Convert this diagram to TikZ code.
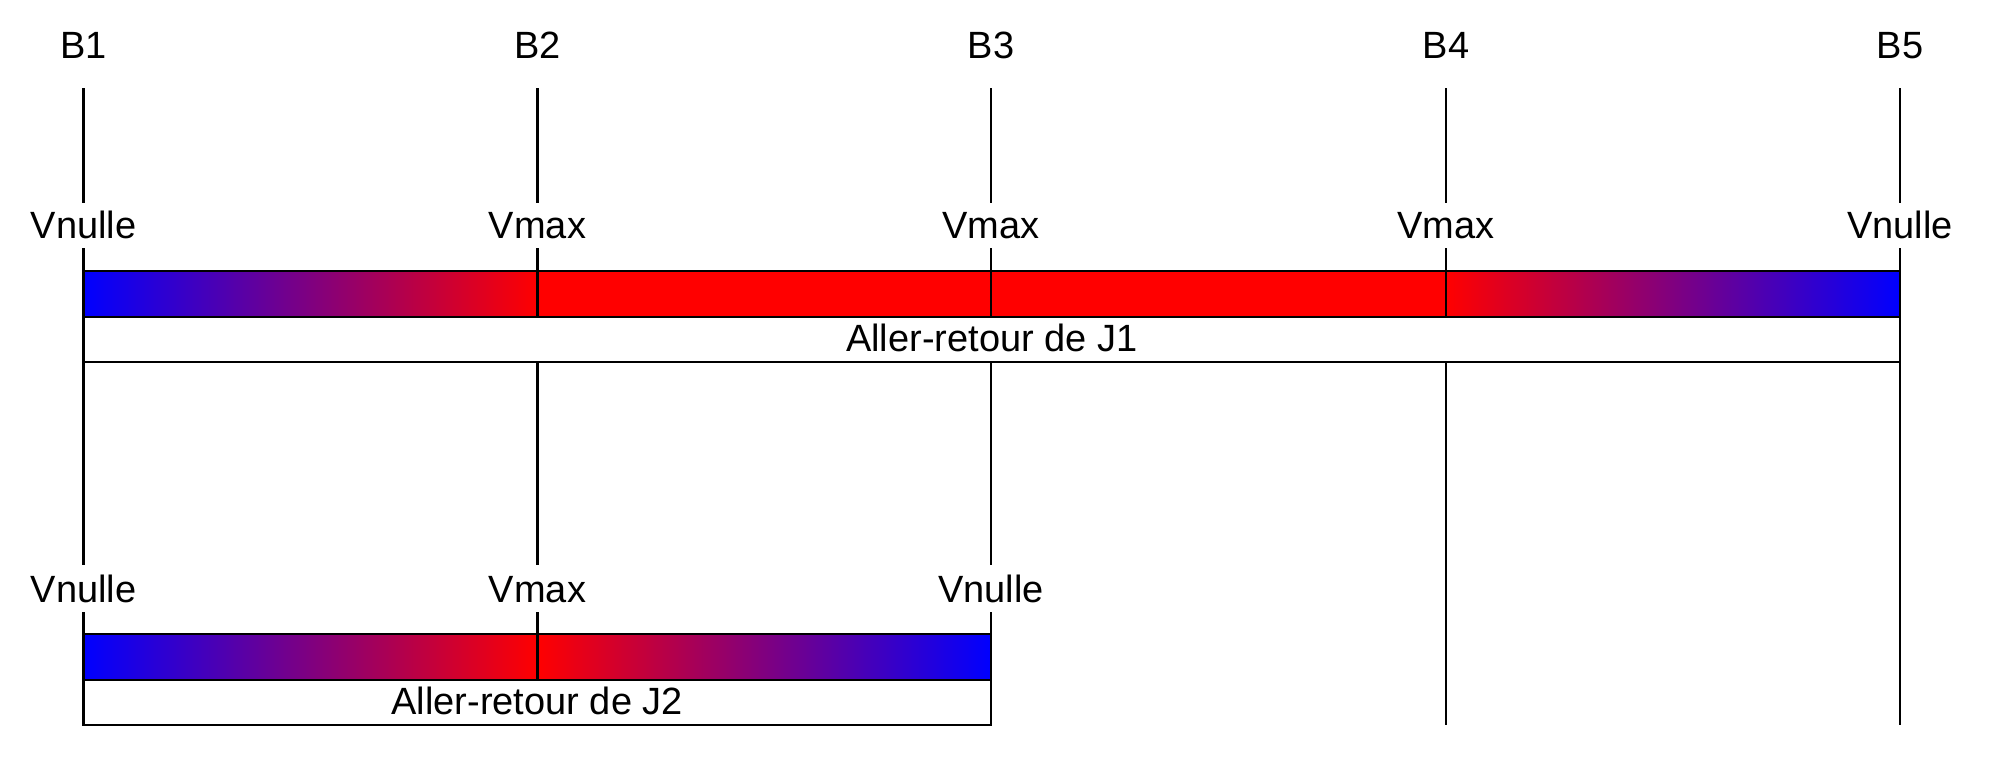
\documentclass[tikz,border=0pt]{standalone}
\usepackage{fontspec}
\setmainfont{Liberation Sans}
\begin{document}
\begin{tikzpicture}[x=0.01cm,y=-0.01cm,line width=0.6pt,
  lbl/.style={font=\fontsize{10.8}{12}\selectfont,inner sep=0pt,anchor=base},
  tick/.style={draw=black,line width=0.6pt},
  frame/.style={draw=black,line width=0.7pt}]
\useasboundingbox (0,0) rectangle (2000,769);
% column positions
\def\xa{83.5}\def\xb{537.5}\def\xc{991}\def\xd{1446}\def\xe{1900}
% bars (J1)
\shade[left color=blue,right color=red] (\xa,271) rectangle (\xb,317);
\fill[red] (\xb,271) rectangle (\xd,317);
\shade[left color=red,right color=blue] (\xd,271) rectangle (\xe,317);
\draw[frame] (\xa,271) rectangle (\xe,362);
\draw[frame] (\xa,317) -- (\xe,317);
% bars (J2)
\shade[left color=blue,right color=red] (\xa,634) rectangle (\xb,680);
\shade[left color=red,right color=blue] (\xb,634) rectangle (\xc,680);
\draw[frame] (\xa,634) rectangle (\xc,725);
\draw[frame] (\xa,680) -- (\xc,680);
% top labels
\node[lbl] (B1) at (\xa,58) {B1};
\node[lbl] (B2) at (\xb,58) {B2};
\node[lbl] (B3) at (\xc,58) {B3};
\node[lbl] (B4) at (\xd,58) {B4};
\node[lbl] (B5) at (\xe,58) {B5};
% J1 speed labels
\node[lbl] (v11) at (\xa,238) {Vnulle};
\node[lbl] (v12) at (\xb,238) {Vmax};
\node[lbl] (v13) at (\xc,238) {Vmax};
\node[lbl] (v14) at (\xd,238) {Vmax};
\node[lbl] (v15) at (\xe,238) {Vnulle};
\node[lbl] (j1) at ({(\xa+\xe)/2},351) {Aller-retour de J1};
% J2 speed labels
\node[lbl] (v21) at (\xa,602) {Vnulle};
\node[lbl] (v22) at (\xb,602) {Vmax};
\node[lbl] (v23) at (\xc,602) {Vnulle};
\node[lbl] (j2) at ({(\xa+\xc)/2},714) {Aller-retour de J2};
% coordinates for the vertical lines
\foreach \n/\x in {1/\xa,2/\xb,3/\xc,4/\xd,5/\xe}{
  \coordinate (ta\n) at (\x,88);
  \coordinate (tb\n) at (\x,203);
  \coordinate (tc\n) at (\x,248);
  \coordinate (td\n) at (\x,317);
  \coordinate (te\n) at (\x,362);
}
\foreach \n/\x in {1/\xa,2/\xb,3/\xc}{
  \coordinate (lf\n) at (\x,565);
  \coordinate (lg\n) at (\x,612);
  \coordinate (lh\n) at (\x,680);
}
\coordinate (lf4) at (\xd,725);
\coordinate (lf5) at (\xe,725);
% vertical lines
\foreach \n in {1,...,5}{
  \draw[tick] (ta\n) -- (tb\n);
  \draw[tick] (tc\n) -- (td\n);
  \draw[tick] (te\n) -- (lf\n);
}
\foreach \n in {1,2,3}{
  \draw[tick] (lg\n) -- (lh\n);
}
\end{tikzpicture}
\end{document}
